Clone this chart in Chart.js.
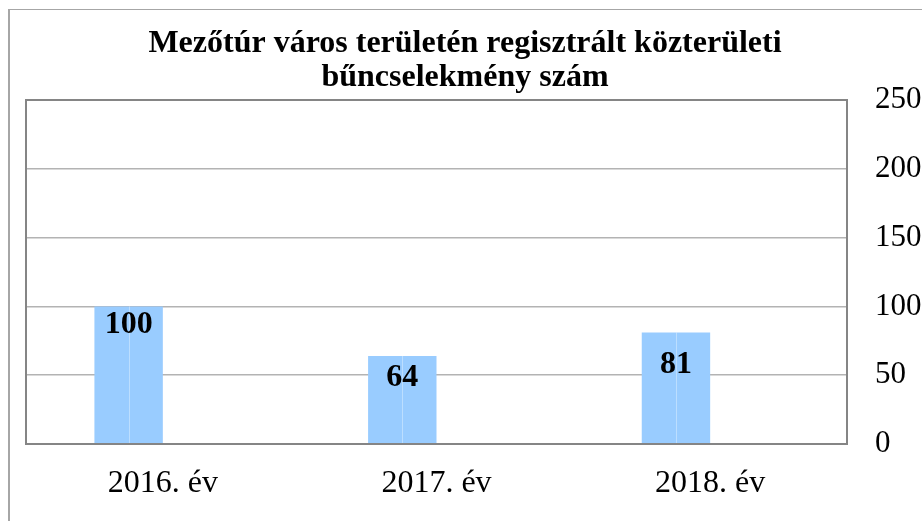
<!DOCTYPE html>
<html>
<head>
<meta charset="utf-8">
<script src="https://cdn.jsdelivr.net/npm/chart.js@4/dist/chart.umd.min.js"></script>
<style>
  html, body { margin: 0; padding: 0; background: #ffffff; }
  #wrap { width: 922px; height: 523px; position: relative; }
  canvas { display: block; }
</style>
</head>
<body>
<div id="wrap"><canvas id="c" width="922" height="523"></canvas></div>
<script>
// ---- data ----
const categories = ['2016. év', '2017. év', '2018. év'];
const crimeCounts = [100, 64, 81];
const emptySeries = [null, null, null];
const yTicks = [0, 50, 100, 150, 200, 250];
const titleLines = ['Mezőtúr város területén regisztrált közterületi', 'bűncselekmény szám'];

const SERIF = "'Liberation Serif', 'Times New Roman', serif";

// frame lines around the picture (left and top)
const framePlugin = {
  id: 'frame',
  beforeDraw(chart) {
    const ctx = chart.ctx;
    ctx.save();
    ctx.fillStyle = '#ffffff';
    ctx.fillRect(0, 0, chart.width, chart.height);
    ctx.strokeStyle = '#a6a6a6';
    ctx.lineWidth = 1;
    ctx.beginPath();
    ctx.moveTo(8, 9.5);
    ctx.lineTo(chart.width, 9.5);
    ctx.stroke();
    ctx.lineWidth = 2;
    ctx.beginPath();
    ctx.moveTo(9, 9);
    ctx.lineTo(9, chart.height - 2);
    ctx.stroke();
    ctx.restore();
  }
};

// value labels inside bars + faint centre line of each bar
const barLabelPlugin = {
  id: 'barLabels',
  afterDatasetsDraw(chart, args, opts) {
    const ctx = chart.ctx;
    const meta = chart.getDatasetMeta(0);
    ctx.save();
    meta.data.forEach((bar, i) => {
      const v = chart.data.datasets[0].data[i];
      if (v == null) return;
      ctx.strokeStyle = 'rgba(255,255,255,0.35)';
      ctx.lineWidth = 1;
      ctx.beginPath();
      ctx.moveTo(Math.round(bar.x) + 0.5, bar.y);
      ctx.lineTo(Math.round(bar.x) + 0.5, bar.base);
      ctx.stroke();
      ctx.fillStyle = '#000000';
      ctx.font = 'bold 32px ' + SERIF;
      ctx.textAlign = 'center';
      ctx.textBaseline = 'middle';
      ctx.fillText(String(v), bar.x, bar.y + opts.offsets[i]);
    });
    ctx.restore();
  }
};

const borderDark = '#858585';
const gridLight = '#b3b3b3';

new Chart(document.getElementById('c'), {
  type: 'bar',
  data: {
    labels: categories,
    datasets: [
      { label: 'bűncselekmény', data: crimeCounts, backgroundColor: '#99ccff', borderWidth: 0, yAxisID: 'y' },
      { label: 'üres', data: emptySeries, backgroundColor: '#99ccff', borderWidth: 0, yAxisID: 'y' }
    ]
  },
  options: {
    responsive: false,
    animation: false,
    devicePixelRatio: 1,
    layout: { padding: { left: 8, right: 0, top: 0, bottom: 0 } },
    datasets: { bar: { categoryPercentage: 0.5, barPercentage: 1.0 } },
    plugins: {
      legend: { display: false },
      tooltip: { enabled: false },
      title: {
        display: true,
        text: titleLines,
        color: '#000000',
        font: { family: SERIF, size: 32, weight: 'bold', lineHeight: 34 / 32 },
        padding: { top: 27, bottom: 5 }
      },
      barLabels: { offsets: [18, 21.5, 32.5] }
    },
    scales: {
      x: {
        position: 'bottom',
        grid: { display: false, drawTicks: false },
        border: { display: true, color: borderDark, width: 2 },
        ticks: { color: '#000000', font: { family: SERIF, size: 32 }, padding: 20 },
        afterFit(scale) { scale.height = 79; }
      },
      yL: {
        position: 'left',
        display: true,
        min: 0, max: 250,
        grid: { display: false, drawTicks: false },
        border: { display: true, color: borderDark, width: 2 },
        ticks: { display: false },
        afterFit(scale) { scale.width = 18; }
      },
      y: {
        position: 'right',
        min: 0, max: 250,
        afterBuildTicks(scale) { scale.ticks = yTicks.map(v => ({ value: v })); },
        grid: {
          drawTicks: false,
          color: (c) => (c.tick && (c.tick.value === 250 || c.tick.value === 0)) ? borderDark : gridLight,
          lineWidth: (c) => (c.tick && (c.tick.value === 250 || c.tick.value === 0)) ? 2 : 1.5
        },
        border: { display: true, color: borderDark, width: 2 },
        ticks: { color: '#000000', font: { family: SERIF, size: 31 }, padding: 28 },
        afterFit(scale) { scale.width = 75; }
      }
    }
  },
  plugins: [framePlugin, barLabelPlugin]
});
</script>
</body>
</html>
